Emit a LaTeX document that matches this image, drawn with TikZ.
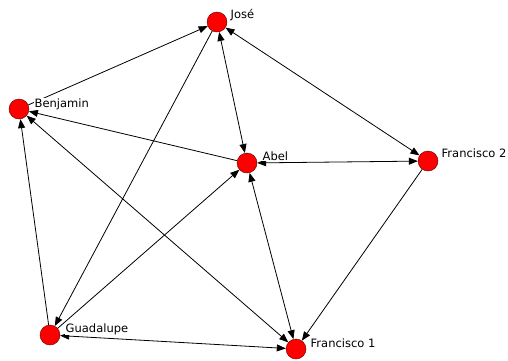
\documentclass[tikz,border=0pt]{standalone}
\usepackage{fontspec}
\setmainfont{DejaVu Sans}
\usetikzlibrary{arrows.meta}
\tikzset{actor/.style={circle,draw=red!35!black,fill=red,minimum size=20pt,inner sep=0pt}}
\tikzset{tag/.style={anchor=base west,fill=white,inner sep=0.5pt,font=\fontsize{11.5}{13}\selectfont}}
\tikzset{link/.style={draw=black,line width=0.8pt,>={Triangle[length=9pt,width=7pt]}}}
\tikzset{links/.style={every edge/.style=link}}

\begin{document}
\begin{tikzpicture}[x=1pt,y=-1pt]
  \useasboundingbox (0,0) rectangle (508,360);
  \node [actor] (jose) at (217,22) {};
  \node [actor] (benjamin) at (19,109) {};
  \node [actor] (abel) at (247,163) {};
  \node [actor] (francisco2) at (428,161) {};
  \node [actor] (guadalupe) at (50,335) {};
  \node [actor] (francisco1) at (296,349) {};
  \path [links]
  (benjamin) edge [->] (jose)
  (jose) edge [<->] (abel)
  (jose) edge [<->] (francisco2)
  (abel) edge [->] (benjamin)
  (abel) edge [<->] (francisco2)
  (abel) edge [<->] (francisco1)
  (benjamin) edge [<->] (francisco1)
  (guadalupe) edge [->] (benjamin)
  (jose) edge [->] (guadalupe)
  (guadalupe) edge [->] (abel)
  (guadalupe) edge [<->] (francisco1)
  (francisco2) edge [->] (francisco1);
  \node [tag] (jose-l) at ([shift={(13,-4)}]jose.center) {José};
  \node [tag] (benjamin-l) at ([shift={(15,-2)}]benjamin.center) {Benjamin};
  \node [tag] (abel-l) at ([shift={(15,-3)}]abel.center) {Abel};
  \node [tag] (francisco2-l) at ([shift={(13,-4)}]francisco2.center) {Francisco 2};
  \node [tag] (guadalupe-l) at ([shift={(15,-3)}]guadalupe.center) {Guadalupe};
  \node [tag] (francisco1-l) at ([shift={(14,-2)}]francisco1.center) {Francisco 1};
\end{tikzpicture}
\end{document}
